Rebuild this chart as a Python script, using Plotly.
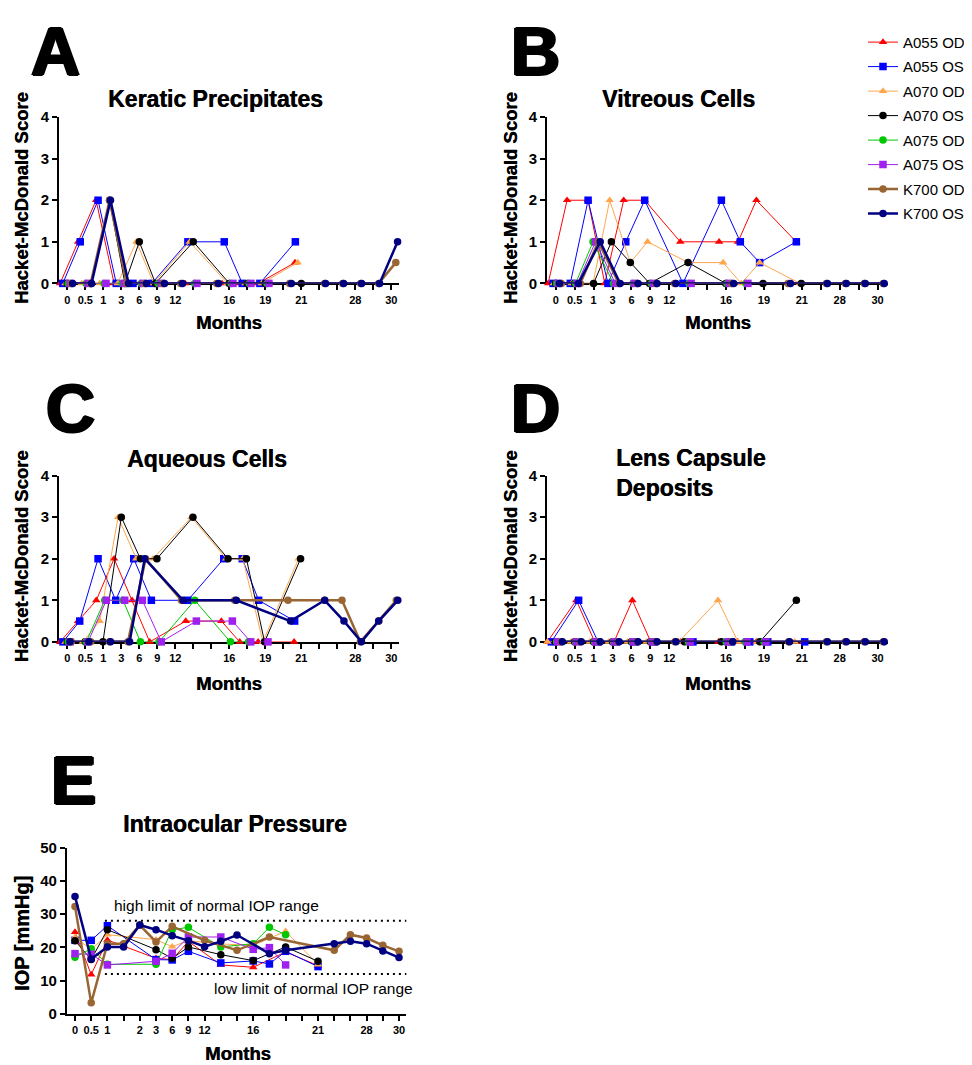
import plotly.graph_objects as go

# ---------------- series definitions ----------------
series_keys = ["a055od", "a055os", "a070od", "a070os", "a075od", "a075os", "k700od", "k700os"]
series_names = ["A055 OD", "A055 OS", "A070 OD", "A070 OS", "A075 OD", "A075 OS", "K700 OD", "K700 OS"]
series_colors = ["#ff0000", "#0000ff", "#ffa64d", "#000000", "#00c800", "#a020f0", "#996633", "#000080"]
series_symbols = ["triangle-up", "square", "triangle-up", "circle", "circle", "square", "circle", "circle"]
series_widths = [1, 1, 1, 1, 1, 1, 2.5, 2.5]

# ---------------- x tick labels (visit index axis) ----------------
hm_ticks_long = ["0", "0.5", "1", "3", "6", "9", "12", "", "", "16", "", "19", "", "21", "", "", "28", "", "30"]
hm_ticks_short = ["0", "0.5", "1", "3", "6", "9", "12", "", "", "16", "", "19", "", "21", "", "28", "", "30"]
iop_ticks = ["0", "0.5", "1", "", "2", "3", "6", "9", "12", "", "", "16", "", "", "", "21", "", "", "28", "", "30"]
hm_score_ticks = [0, 1, 2, 3, 4]
iop_value_ticks = [0, 10, 20, 30, 40, 50]
iop_normal_high = 28
iop_normal_low = 12

# ---------------- A: Keratic Precipitates ----------------
kp_a055od_x = [-0.4, 0.6, 1.6, 2.6, 3.6, 4.6, 6.55, 8.6, 9.6, 10.6, 12.65]
kp_a055od_y = [0, 1, 2, 0, 0, 0, 0, 0, 0, 0, 0.5]
kp_a055os_x = [-0.25, 0.72, 1.71, 2.72, 3.65, 4.7, 6.7, 8.72, 9.72, 10.7, 12.67]
kp_a055os_y = [0, 1, 2, 0, 0, 0, 1, 1, 0, 0, 1]
kp_a070od_x = [-0.1, 0.8, 1.8, 2.8, 3.84, 4.8, 6.8, 8.9, 9.9, 10.8, 12.8]
kp_a070od_y = [0, 0, 0, 0, 1, 0, 1, 0, 0, 0, 0.5]
kp_a070os_x = [0.0, 1.3, 2.35, 3.2, 4.0, 4.9, 7.0, 9.0, 10.0, 11.0, 13.0]
kp_a070os_y = [0, 0, 2, 0, 1, 0, 1, 0, 0, 0, 0]
kp_a075od_x = [0.05, 1.05, 2.05, 3.05, 4.1, 5.05, 7.08, 9.1, 10.1, 11.1]
kp_a075od_y = [0, 0, 0, 0, 0, 0, 0, 0, 0, 0]
kp_a075os_x = [0.15, 1.15, 2.15, 3.15, 4.2, 5.2, 7.2, 9.2, 10.2, 11.2]
kp_a075os_y = [0, 0, 0, 0, 0, 0, 0, 0, 0, 0]
kp_k700od_x = [0.22, 1.3, 2.35, 3.3, 4.3, 5.3, 6.3, 8.3, 12.35, 14.3, 15.3, 16.3, 17.3, 18.25]
kp_k700od_y = [0, 0, 2, 0, 0, 0, 0, 0, 0, 0, 0, 0, 0, 0.5]
kp_k700os_x = [0.3, 1.35, 2.4, 3.4, 4.4, 5.4, 6.4, 8.4, 12.45, 14.35, 15.35, 16.35, 17.35, 18.35]
kp_k700os_y = [0, 0, 2, 0, 0, 0, 0, 0, 0, 0, 0, 0, 0, 1]

# ---------------- B: Vitreous Cells ----------------
vc_a055od_x = [-0.4, 0.6, 1.71, 2.59, 3.59, 4.7, 6.58, 8.63, 9.63, 10.6, 12.7]
vc_a055od_y = [0, 2, 2, 0, 2, 2, 1, 1, 1, 2, 1]
vc_a055os_x = [-0.14, 0.77, 1.71, 2.76, 3.7, 4.7, 6.72, 8.75, 9.75, 10.77, 12.71]
vc_a055os_y = [0, 0, 2, 0, 1, 2, 0, 2, 1, 0.5, 1]
vc_a070od_x = [-0.1, 0.85, 1.97, 2.85, 3.94, 4.85, 7.0, 8.84, 9.8, 10.77, 12.9]
vc_a070od_y = [0, 0, 0, 2, 0.5, 1, 0.5, 0.5, 0, 0.5, 0]
vc_a070os_x = [0.0, 1.0, 2.0, 2.94, 3.94, 4.96, 6.99, 8.98, 10.95, 12.97]
vc_a070os_y = [0, 0, 0, 1, 0.5, 0, 0.5, 0, 0, 0]
vc_a075od_x = [0.05, 1.05, 1.97, 3.05, 4.08, 5.05, 7.05, 9.05, 10.05]
vc_a075od_y = [0, 0, 1, 0, 0, 0, 0, 0, 0]
vc_a075os_x = [0.15, 1.15, 2.1, 3.15, 4.15, 5.15, 7.15, 9.15, 10.15]
vc_a075os_y = [0, 0, 1, 0, 0, 0, 0, 0, 0]
vc_k700od_x = [0.3, 1.3, 2.25, 3.34, 4.3, 5.3, 6.28, 9.3, 12.27, 14.3, 15.3, 16.3, 17.3]
vc_k700od_y = [0, 0, 1, 0, 0, 0, 0, 0, 0, 0, 0, 0, 0]
vc_k700os_x = [0.2, 1.2, 2.35, 3.4, 4.35, 5.35, 6.35, 9.4, 12.4, 14.35, 15.35, 16.35, 17.35]
vc_k700os_y = [0, 0, 1, 0, 0, 0, 0, 0, 0, 0, 0, 0, 0]

# ---------------- C: Aqueous Cells ----------------
ac_a055od_x = [-0.4, 0.6, 1.61, 2.6, 3.6, 4.58, 6.58, 8.56, 9.58, 10.6, 12.6]
ac_a055od_y = [0, 0.5, 1, 2, 1, 0, 0.5, 0.5, 0, 0, 0]
ac_a055os_x = [-0.24, 0.69, 1.71, 2.69, 3.69, 4.67, 6.7, 8.69, 9.72, 10.63, 12.63]
ac_a055os_y = [0, 0.5, 2, 1, 2, 1, 1, 2, 2, 1, 0.5]
ac_a070od_x = [-0.1, 0.87, 1.8, 2.82, 3.83, 4.76, 6.89, 8.83, 9.75, 10.87, 12.85]
ac_a070od_y = [0, 0, 0.5, 3, 2, 2, 3, 2, 2, 0, 2]
ac_a070os_x = [0.0, 1.0, 1.98, 3.0, 4.06, 4.98, 6.98, 8.93, 9.95, 10.96, 12.96]
ac_a070os_y = [0, 0, 0, 3, 2, 2, 3, 2, 2, 0, 2]
ac_a075od_x = [0.05, 1.05, 2.08, 3.1, 4.06, 5.1, 7.08, 9.06, 10.07]
ac_a075od_y = [0, 0, 1, 1, 0, 0, 1, 0, 0]
ac_a075os_x = [0.15, 1.15, 2.17, 3.19, 4.17, 5.22, 7.17, 9.17, 10.19, 11.15]
ac_a075os_y = [0, 0, 1, 1, 1, 0, 0.5, 0.5, 0, 0]
ac_k700od_x = [0.22, 1.3, 2.35, 3.37, 4.35, 6.34, 9.3, 12.26, 14.3, 15.26, 16.28, 17.3, 18.28]
ac_k700od_y = [0, 0, 0, 0, 2, 1, 1, 1, 1, 1, 0, 0.5, 1]
ac_k700os_x = [0.15, 1.2, 2.4, 3.46, 4.3, 6.43, 9.39, 12.4, 14.3, 15.37, 16.34, 17.3, 18.36]
ac_k700os_y = [0, 0, 0, 0, 2, 1, 1, 0.5, 1, 0.5, 0, 0.5, 1]

# ---------------- D: Lens Capsule Deposits ----------------
lcd_a055od_x = [-0.44, 1.09, 2.06, 3.08, 4.05, 5.02, 6.6, 8.6, 9.6, 10.6, 13.06]
lcd_a055od_y = [0, 1, 0, 0, 1, 0, 0, 0, 0, 0, 0]
lcd_a055os_x = [-0.23, 1.21, 2.24, 3.2, 4.2, 5.2, 7.25, 9.28, 10.25, 11.2, 13.15]
lcd_a055os_y = [0, 1, 0, 0, 0, 0, 0, 0, 0, 0, 0]
lcd_a070od_x = [-0.44, 0.8, 1.8, 2.8, 3.8, 4.8, 6.5, 8.57, 9.63, 10.63, 12.62]
lcd_a070od_y = [0, 0, 0, 0, 0, 0, 0, 1, 0, 0, 0]
lcd_a070os_x = [0.0, 1.0, 2.0, 3.0, 4.0, 5.0, 6.8, 8.75, 10.78, 12.71]
lcd_a070os_y = [0, 0, 0, 0, 0, 0, 0, 0, 0, 1]
lcd_a075od_x = [0.05, 1.05, 2.05, 3.05, 4.05, 5.05, 7.0, 9.0, 10.0, 11.0]
lcd_a075od_y = [0, 0, 0, 0, 0, 0, 0, 0, 0, 0]
lcd_a075os_x = [0.1, 1.1, 2.1, 3.1, 4.1, 5.1, 7.1, 9.1, 10.1, 11.1]
lcd_a075os_y = [0, 0, 0, 0, 0, 0, 0, 0, 0, 0]
lcd_k700od_x = [0.3, 1.3, 2.3, 3.3, 4.3, 5.3, 6.3, 9.3, 12.3, 14.3, 15.3, 16.3, 17.3]
lcd_k700od_y = [0, 0, 0, 0, 0, 0, 0, 0, 0, 0, 0, 0, 0]
lcd_k700os_x = [0.35, 1.35, 2.35, 3.35, 4.35, 5.35, 6.35, 9.35, 12.35, 14.35, 15.35, 16.35, 17.35]
lcd_k700os_y = [0, 0, 0, 0, 0, 0, 0, 0, 0, 0, 0, 0, 0]

# ---------------- E: Intraocular Pressure (mmHg) ----------------
iop_a055od_x = [0, 1, 2, 5, 6, 7, 9, 11, 13, 15]
iop_a055od_y = [24.6, 11.8, 22.2, 16.7, 16.3, 21.8, 14.7, 14.0, 18.6, 14.5]
iop_a055os_x = [0, 1, 2, 5, 6, 7, 9, 11, 12, 13, 15]
iop_a055os_y = [22.1, 22.1, 26.5, 16.3, 16.2, 18.8, 15.3, 15.9, 15.0, 18.8, 14.2]
iop_a070od_x = [0, 1, 2, 5, 6, 7, 9, 11, 13, 15]
iop_a070od_y = [23.0, 19.3, 23.8, 22.3, 20.2, 22.0, 21.0, 20.6, 24.8, 14.8]
iop_a070os_x = [0, 1, 2, 5, 6, 7, 9, 11, 13, 15]
iop_a070os_y = [22.0, 16.3, 25.3, 19.3, 16.7, 20.1, 17.8, 16.0, 20.1, 15.8]
iop_a075od_x = [0, 1, 2, 5, 6, 7, 9, 11, 12, 13]
iop_a075od_y = [17.0, 19.6, 14.9, 14.9, 25.3, 26.0, 20.1, 21.1, 26.0, 23.8]
iop_a075os_x = [0, 1, 2, 5, 6, 7, 9, 11, 12, 13]
iop_a075os_y = [18.1, 17.9, 14.7, 15.8, 18.2, 23.1, 23.1, 19.4, 19.9, 14.7]
iop_k700od_x = [0, 1, 2, 3, 4, 5, 6, 8, 10, 12, 16, 17, 18, 19, 20]
iop_k700od_y = [32.3, 3.3, 21.1, 21.1, 26.7, 21.6, 26.3, 22.1, 19.1, 23.1, 19.1, 23.8, 22.8, 20.6, 18.8]
iop_k700os_x = [0, 1, 2, 3, 4, 5, 6, 7, 8, 9, 10, 12, 13, 16, 17, 18, 19, 20]
iop_k700os_y = [35.3, 16.5, 20.1, 20.1, 26.7, 25.3, 23.5, 22.0, 20.2, 21.8, 23.7, 18.1, 19.1, 21.1, 21.8, 21.1, 18.9, 16.9]

# ---------------- build figure ----------------
W, H = 972, 1065
FONT = "Liberation Sans"


def px(x):
    return x / W


def py(y):
    return 1 - y / H


g = globals()
panels = ["kp", "vc", "ac", "lcd", "iop"]

fig = go.Figure()
for pi, pre in enumerate(panels):
    ax = "" if pi == 0 else str(pi + 1)
    for si, key in enumerate(series_keys):
        fig.add_trace(go.Scatter(
            x=g[f"{pre}_{key}_x"], y=g[f"{pre}_{key}_y"],
            mode="lines+markers", name=series_names[si],
            legendgroup=series_names[si], showlegend=(pi == 0),
            line=dict(color=series_colors[si], width=series_widths[si]),
            marker=dict(symbol=series_symbols[si], color=series_colors[si], size=7.5,
                        line=dict(width=0)),
            xaxis="x" + ax, yaxis="y" + ax, cliponaxis=False,
        ))


def xaxis(dom_px, rng, labels, anchor):
    return dict(domain=[px(dom_px[0]), px(dom_px[1])], range=rng, anchor=anchor,
                tickmode="array", tickvals=list(range(len(labels))), ticktext=labels,
                ticks="outside", ticklen=5, tickwidth=1.5, tickcolor="black",
                showline=True, linewidth=2, linecolor="black", showgrid=False,
                zeroline=False, layer="below traces",
                tickfont=dict(family=FONT, size=11, color="black", weight="bold"))


def yaxis(dom_px, rng, vals, anchor):
    return dict(domain=[py(dom_px[1]), py(dom_px[0])], range=rng, anchor=anchor,
                tickmode="array", tickvals=vals, ticktext=[str(v) for v in vals],
                ticks="outside", ticklen=5, tickwidth=1.5, tickcolor="black",
                showline=True, linewidth=2, linecolor="black", showgrid=False,
                zeroline=False, layer="below traces",
                tickfont=dict(family=FONT, size=15, color="black", weight="bold"))


AX_L = (51.2, 390.5)
AX_R = (539.0, 880.0)
RNG_L = [-0.45, 18.4]
RNG_R = [-0.46, 17.55]
Y_TOP = (101.7, 270.7)
Y_MID = (466.0, 635.0)

fig.update_layout(
    xaxis=xaxis(AX_L, RNG_L, hm_ticks_long, "y"),
    yaxis=yaxis(Y_TOP, [0, 4], hm_score_ticks, "x"),
    xaxis2=xaxis(AX_R, RNG_R, hm_ticks_short, "y2"),
    yaxis2=yaxis(Y_TOP, [0, 4], hm_score_ticks, "x2"),
    xaxis3=xaxis(AX_L, RNG_L, hm_ticks_long, "y3"),
    yaxis3=yaxis(Y_MID, [0, 4], hm_score_ticks, "x3"),
    xaxis4=xaxis(AX_R, RNG_R, hm_ticks_short, "y4"),
    yaxis4=yaxis(Y_MID, [0, 4], hm_score_ticks, "x4"),
    xaxis5=xaxis((58.9, 398.3), [-0.5, 20.45], iop_ticks, "y5"),
    yaxis5=yaxis((844.0, 1013.0), [0, 50], iop_value_ticks, "x5"),
)

# normal IOP range lines
for lvl in (iop_normal_high, iop_normal_low):
    fig.add_shape(type="line", xref="x5 domain", yref="y5", x0=0.112, x1=1.0, y0=lvl, y1=lvl,
                  line=dict(color="black", width=2, dash="2px,4px"))

ann = []
HEAVY = "1.5px 0px 0px black, -1.5px 0px 0px black, 0px 1px 0px black, 0px -1px 0px black"
SEMI = "0.5px 0px 0px black"


def text(t, x, y, size, bold=True, angle=0, xanchor="center", align="center", shadow="none"):
    ann.append(dict(text=t, x=px(x), y=py(y), xref="paper", yref="paper", showarrow=False,
                    xanchor=xanchor, yanchor="middle", textangle=angle, align=align,
                    font=dict(family=FONT, size=size, color="black",
                              weight="bold" if bold else "normal", shadow=shadow)))


# panel letters
text("A", 47, 35, 68, shadow=HEAVY)
text("B", 527, 35, 68, shadow=HEAVY)
text("C", 62, 397, 68, shadow=HEAVY)
text("D", 527, 397, 68, shadow=HEAVY)
text("E", 65, 775, 68, shadow=HEAVY)
# panel titles
text("Keratic Precipitates", 207, 83, 23, shadow=SEMI)
text("Vitreous Cells", 670, 83, 23, shadow=SEMI)
text("Aqueous Cells", 199, 449, 23, shadow=SEMI)
text("Lens Capsule<br>Deposits", 606, 463, 23, xanchor="left", align="left", shadow=SEMI)
text("Intraocular Pressure", 227, 820, 23, shadow=SEMI)
# axis titles
for (x, y) in [(13, 184), (502, 184), (13, 548), (502, 548)]:
    text("Hacket-McDonald Score", x, y, 18.5, angle=-90, shadow=SEMI)
text("IOP [mmHg]", 14, 932, 20, angle=-90, shadow=SEMI)
for (x, y) in [(221, 310), (710, 310), (221, 677), (710, 677), (230, 1053)]:
    text("Months", x, y, 18.5, shadow=SEMI)
# normal range labels
text("high limit of normal IOP range", 208, 903, 15.5, bold=False)
text("low limit of normal IOP range", 305, 987, 15.5, bold=False)

fig.update_layout(
    width=W, height=H, margin=dict(l=0, r=0, t=0, b=0),
    paper_bgcolor="white", plot_bgcolor="white",
    annotations=ann,
    legend=dict(x=px(855), y=py(9), xanchor="left", yanchor="top",
                font=dict(family=FONT, size=15, color="black"),
                bgcolor="rgba(0,0,0,0)", tracegroupgap=2, itemwidth=30),
    font=dict(family=FONT),
)

fig.write_html("out.html")
